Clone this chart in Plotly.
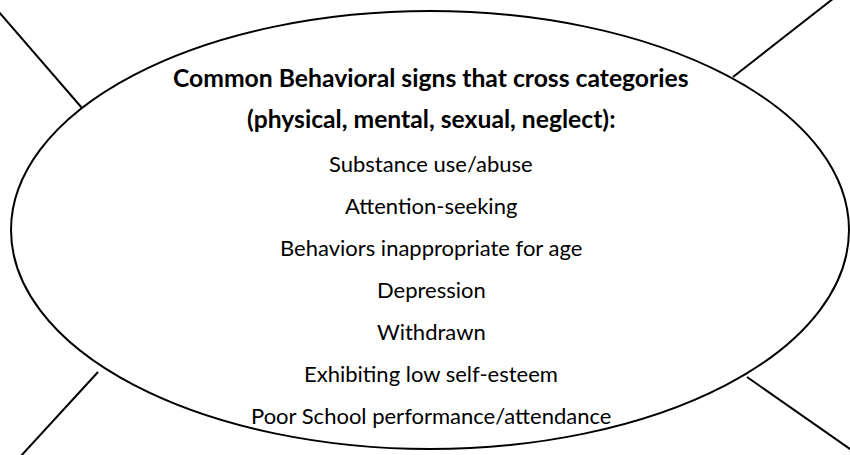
import plotly.graph_objects as go

W, H = 850, 455

title_lines = ["Common Behavioral signs that cross categories",
               "(physical, mental, sexual, neglect):"]
items = ["Substance use/abuse", "Attention-seeking", "Behaviors inappropriate for age",
         "Depression", "Withdrawn", "Exhibiting low self-esteem",
         "Poor School performance/attendance"]
title_y = [77, 118]
item_y = [163, 205, 247, 289, 331, 373, 415]

# ellipse bounds (x0, y0, x1, y1)
ellipse = [11, 11, 849, 449]
# spokes: (x0, y0, x1, y1)
spokes_x0 = [-2, 834, 20, 747]
spokes_y0 = [11, -2, 457, 377]
spokes_x1 = [82, 733, 98, 870]
spokes_y1 = [108, 77, 372, 463]

FONT = "Lato"

fig = go.Figure()
fig.add_trace(go.Scatter(x=[0, W], y=[0, H], mode="markers",
                         marker=dict(opacity=0), hoverinfo="skip", showlegend=False))

shapes = [dict(type="circle", xref="x", yref="y",
               x0=ellipse[0], y0=ellipse[1], x1=ellipse[2], y1=ellipse[3],
               line=dict(color="black", width=2))]
for a, b, c, d in zip(spokes_x0, spokes_y0, spokes_x1, spokes_y1):
    shapes.append(dict(type="line", xref="x", yref="y", x0=a, y0=b, x1=c, y1=d,
                       line=dict(color="black", width=2)))

annotations = []
for t, y in zip(title_lines, title_y):
    annotations.append(dict(x=431, y=y, xref="x", yref="y", text="<b>%s</b>" % t,
                            showarrow=False, xanchor="center", yanchor="middle",
                            font=dict(family=FONT, size=24.7, color="black")))
for t, y in zip(items, item_y):
    annotations.append(dict(x=431, y=y, xref="x", yref="y", text=t,
                            showarrow=False, xanchor="center", yanchor="middle",
                            font=dict(family=FONT, size=22, color="black")))

fig.update_layout(width=W, height=H, margin=dict(l=0, r=0, t=0, b=0),
                  paper_bgcolor="white", plot_bgcolor="white",
                  xaxis=dict(range=[0, W], visible=False, fixedrange=True),
                  yaxis=dict(range=[H, 0], visible=False, fixedrange=True),
                  shapes=shapes, annotations=annotations, showlegend=False)
fig.write_html("out.html", config={"displayModeBar": False},
               post_script="document.body.style.margin='0';document.body.style.overflow='hidden';")
